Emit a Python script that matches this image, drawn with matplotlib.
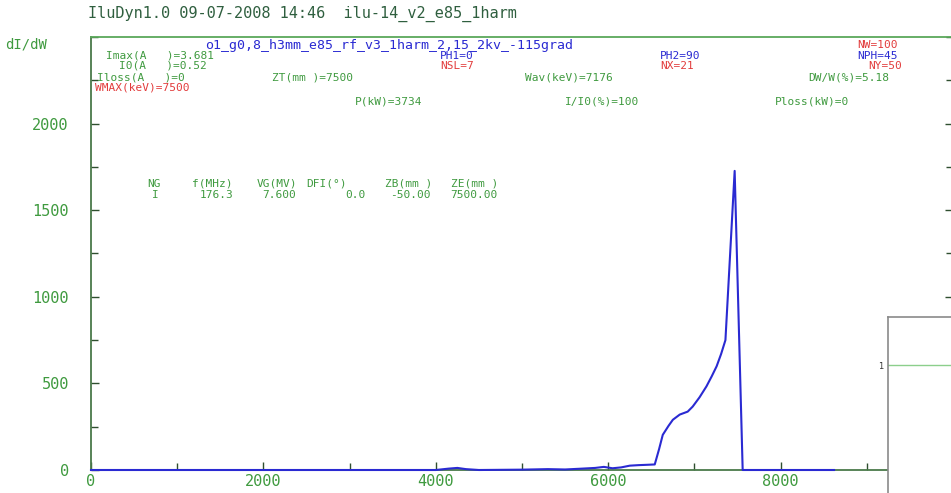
import matplotlib
matplotlib.use('Agg')
import matplotlib.pyplot as plt
from matplotlib.ticker import MultipleLocator

# energy W (keV) and spectrum dI/dW
w_kev = [0, 4000, 4150, 4250, 4350, 4500, 5000, 5300, 5500, 5700, 5850, 5950,
         6050, 6150, 6250, 6350, 6450, 6540, 6590, 6633, 6700, 6750, 6830,
         6922, 6980, 7060, 7140, 7200, 7258, 7310, 7360, 7467, 7560, 8620]
di_dw = [0, 0, 8, 12, 5, 0, 2, 5, 3, 8, 12, 18,
         10, 15, 25, 28, 30, 32, 120, 203, 255, 290, 320,
         337, 366, 420, 483, 540, 599, 670, 750, 1727, 0, 0]

x_ticks = [0, 2000, 4000, 6000, 8000]
y_ticks = [0, 500, 1000, 1500, 2000]

title_txt = 'IluDyn1.0 09-07-2008 14:46  ilu-14_v2_e85_1harm'
run_name = 'o1_g0,8_h3mm_e85_rf_v3_1harm_2,15_2kv_-115grad'

GREEN = '#3f9a3f'
RED = '#e23c3c'
BLUE = '#2a2ad2'
DARK = '#2f5f3f'
MONO = 'DejaVu Sans Mono'

W, H = 951, 493


def fx(px):
    return px / W


def fy(py):
    return 1 - py / H


fig = plt.figure(figsize=(9.51, 4.93), dpi=100)
fig.patch.set_facecolor('white')

# main plot
ax = fig.add_axes([fx(91), fy(470), fx(953) - fx(91), fy(37) - fy(470)])
ax.plot(w_kev, di_dw, color=BLUE, lw=1.5, zorder=3, clip_on=False)
ax.set_xlim(0, 10000)
ax.set_ylim(0, 2500)
ax.set_xticks(x_ticks)
ax.set_yticks(y_ticks)
ax.xaxis.set_minor_locator(MultipleLocator(1000))
ax.yaxis.set_minor_locator(MultipleLocator(250))
ax.tick_params(which='both', direction='in', color='#2f4f2f', width=1,
               top=False, right=True, labelcolor=GREEN, labelsize=11)
ax.tick_params(which='major', length=6)
ax.tick_params(which='minor', length=5)
ax.tick_params(axis='x', pad=3)
ax.tick_params(axis='y', pad=16)
for lab in ax.get_xticklabels() + ax.get_yticklabels():
    lab.set_family(MONO)
for side in ['left', 'bottom']:
    ax.spines[side].set_color('#4a7a4a')
    ax.spines[side].set_linewidth(1.3)
for side in ['top', 'right']:
    ax.spines[side].set_color('#5aa85a')
    ax.spines[side].set_linewidth(1.3)

# small second panel cut off at the lower right
ax2 = fig.add_axes([fx(888), -0.1, 0.2, fy(317) + 0.1])
ax2.plot([0, 1], [1, 1], color='#8ccf8c', lw=1)
ax2.set_xlim(0, 1)
ax2.set_ylim(0, 1.271)
ax2.set_xticks([])
ax2.set_yticks([1])
ax2.set_yticklabels(['1'])
ax2.tick_params(axis='y', length=0, labelsize=6, pad=3, labelcolor='#333333')
for s in ax2.spines.values():
    s.set_color('#8a8a8a')
    s.set_linewidth(1.2)

# header texts
fig.text(fx(88), fy(14), title_txt, color=DARK, family=MONO, fontsize=11,
         va='center')
fig.text(fx(5), fy(45), 'dI/dW', color=GREEN, family=MONO, fontsize=10,
         va='center')

rows = [
    (45, 205, run_name, BLUE, 9.5),
    (45, 857, 'NW=100', RED, 8),
    (56, 106, 'Imax(A   )=3.681', GREEN, 8),
    (56, 440, 'PH1=0', BLUE, 8),
    (56, 660, 'PH2=90', BLUE, 8),
    (56, 857, 'NPH=45', BLUE, 8),
    (66, 119, 'I0(A   )=0.52', GREEN, 8),
    (66, 440, 'NSL=7', RED, 8),
    (66, 660, 'NX=21', RED, 8),
    (66, 868, 'NY=50', RED, 8),
    (77, 97, 'Iloss(A   )=0', GREEN, 8),
    (77, 272, 'ZT(mm )=7500', GREEN, 8),
    (77, 525, 'Wav(keV)=7176', GREEN, 8),
    (77, 808, 'DW/W(%)=5.18', GREEN, 8),
    (88, 95, 'WMAX(keV)=7500', RED, 8),
    (102, 355, 'P(kW)=3734', GREEN, 8),
    (102, 565, 'I/I0(%)=100', GREEN, 8),
    (102, 775, 'Ploss(kW)=0', GREEN, 8),
]
for y, x, s, c, fs in rows:
    fig.text(fx(x), fy(y), s, color=c, family=MONO, fontsize=fs, va='center')

# gap table
heads = [(147, 'NG'), (192, 'f(MHz)'), (257, 'VG(MV)'), (306, 'DFI(°)'),
         (385, 'ZB(mm )'), (451, 'ZE(mm )')]
vals = [(152, 'I'), (200, '176.3'), (262, '7.600'), (345, '0.0'),
        (390, '-50.00'), (450, '7500.00')]
for x, s in heads:
    fig.text(fx(x), fy(184), s, color=GREEN, family=MONO, fontsize=8,
             va='center')
for x, s in vals:
    fig.text(fx(x), fy(195), s, color=GREEN, family=MONO, fontsize=8,
             va='center')

fig.savefig('out.png', dpi=100)
